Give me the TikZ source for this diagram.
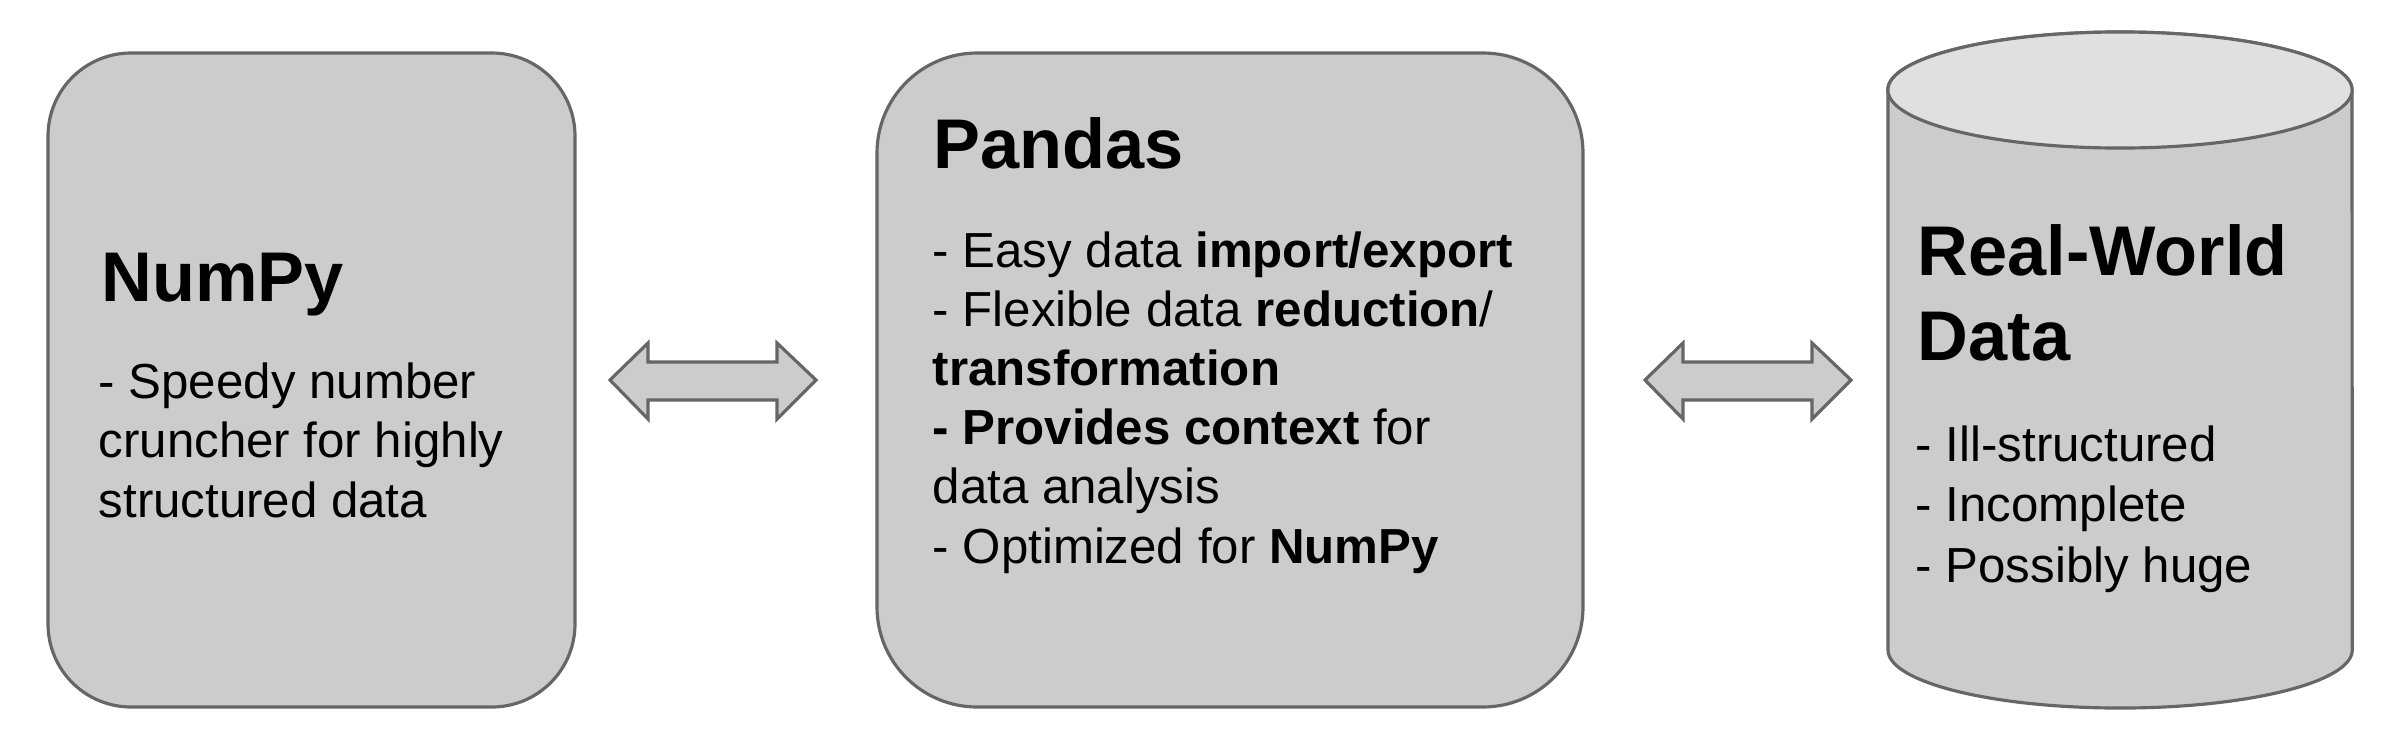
\documentclass[tikz,border=0pt]{standalone}
\usepackage{fontspec}
\setmainfont{Liberation Sans}
\definecolor{boxfill}{HTML}{CCCCCC}
\definecolor{topfill}{HTML}{E0E0E0}
\definecolor{edge}{HTML}{666666}
\tikzset{
  shapebox/.style={draw=edge, fill=boxfill, line width=0.9pt},
  blockarrow/.style={draw=edge, fill=boxfill, line width=0.9pt, line join=miter},
  title/.style={anchor=base west, inner sep=0pt, font=\fontsize{20}{23.9}\selectfont\bfseries, align=left},
  bodytext/.style={anchor=base west, inner sep=0pt, font=\fontsize{14}{16.8}\selectfont, align=left},
}
\begin{document}
\begin{tikzpicture}[x=0.01cm, y=-0.01cm]
\useasboundingbox (0,0) rectangle (2384,748);
% boxes
\draw[shapebox, rounded corners=0.83cm] (48,53) rectangle (575,707);
\draw[shapebox, rounded corners=1.0cm] (877,53) rectangle (1583,707);
% cylinder
\draw[shapebox] (1888,90) -- (1888,650)
  arc[start angle=180, end angle=360, x radius=2.32cm, y radius=0.58cm]
  -- (2352,90)
  arc[start angle=0, end angle=180, x radius=2.32cm, y radius=0.58cm] -- cycle;
\draw[draw=edge, fill=topfill, line width=0.9pt] (2120,90) ellipse [x radius=2.32cm, y radius=0.58cm];
% arrows
\draw[blockarrow] (610,380) -- (648,343) -- (648,362) -- (777,362) -- (777,343) -- (816,380)
  -- (777,419) -- (777,400) -- (648,400) -- (648,419) -- cycle;
\draw[blockarrow] (1645,380) -- (1683,343) -- (1683,362) -- (1812,362) -- (1812,343) -- (1851,380)
  -- (1812,419) -- (1812,400) -- (1683,400) -- (1683,419) -- cycle;
% texts (base anchor = baseline of the last line)
\node[title] (numpyt) at (101,301) {NumPy};
\node[bodytext] (numpyb) at (98,517) {- Speedy number\\cruncher for highly\\structured data};
\node[title] (pandast) at (933,168) {Pandas};
\node[bodytext] (pandasb) at (932,563)
  {- Easy data \textbf{import/export}\\- Flexible data \textbf{reduction}/\\\textbf{transformation}\\\textbf{- Provides context} for\\data analysis\\- Optimized for \textbf{NumPy}};
\node[title] (realt) at (1917,360) {Real-World\\Data};
\node[bodytext, font=\fontsize{14}{17.1}\selectfont] (realb) at (1915,582) {- Ill-structured\\- Incomplete\\- Possibly huge};
\end{tikzpicture}
\end{document}
